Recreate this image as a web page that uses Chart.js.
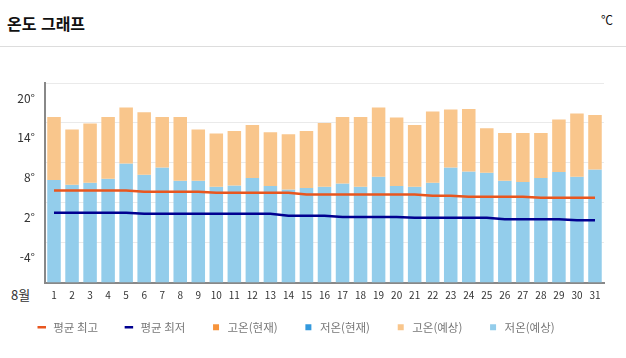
<!DOCTYPE html>
<html lang="ko">
<head>
<meta charset="utf-8">
<script src="https://cdn.jsdelivr.net/npm/chart.js@4/dist/chart.umd.min.js"></script>
<style>
  html, body { margin: 0; padding: 0; background: #fff; }
  #wrap { position: relative; width: 626px; height: 358px; overflow: hidden; font-family: "Noto Sans CJK KR", "Noto Sans", sans-serif; }
  #title { position: absolute; left: 7px; top: 11px; font-size: 16px; font-weight: 700; color: #111; }
  #unit { position: absolute; left: 601px; top: 11px; font-size: 12px; color: #111; }
  #sep { position: absolute; left: 0; top: 46px; width: 626px; height: 1px; background: #ddd; }
  #month { position: absolute; left: 11px; top: 285px; font-size: 13px; color: #333; }
  canvas { position: absolute; left: 0; top: 0; }
</style>
</head>
<body>
<div id="wrap">
  <div id="title">온도 그래프</div>
  <div id="unit">℃</div>
  <div id="sep"></div>
  <div id="month">8월</div>
  <canvas id="chart" width="626" height="358"></canvas>
</div>
<script>
// 8월 일자
const days = ['1','2','3','4','5','6','7','8','9','10','11','12','13','14','15','16',
  '17','18','19','20','21','22','23','24','25','26','27','28','29','30','31'];

// 예상 고온 / 저온
const highs = [14.9, 13.0, 13.9, 14.9, 16.3, 15.6, 14.9, 14.9, 13.0, 12.4, 12.8, 13.7, 12.6, 12.3, 12.8, 14.0,
  14.9, 14.9, 16.3, 14.8, 13.7, 15.7, 16.0, 16.1, 13.2, 12.5, 12.5, 12.5, 14.5, 15.4, 15.2];
const lows = [5.4, 4.7, 5.0, 5.6, 7.9, 6.2, 7.3, 5.3, 5.3, 4.4, 4.6, 5.7, 4.5, 4.0, 4.2, 4.4,
  4.9, 4.4, 5.9, 4.5, 4.4, 5.0, 7.3, 6.7, 6.5, 5.3, 5.1, 5.7, 6.6, 5.9, 7.0];

// 현재 (값 없음)
const highsNow = [];
const lowsNow = [];

// 평균 최고 / 최저
const avgHigh = [3.85, 3.85, 3.85, 3.85, 3.85, 3.65, 3.65, 3.65, 3.65, 3.5, 3.5, 3.5, 3.5, 3.5, 3.25, 3.25,
  3.25, 3.25, 3.25, 3.25, 3.25, 3.05, 3.05, 2.9, 2.9, 2.9, 2.9, 2.75, 2.75, 2.75, 2.75];
const avgLow = [0.5, 0.5, 0.5, 0.5, 0.5, 0.35, 0.35, 0.35, 0.35, 0.35, 0.35, 0.35, 0.35, 0.05, 0.05, 0.05,
  -0.15, -0.15, -0.15, -0.15, -0.25, -0.25, -0.25, -0.25, -0.25, -0.5, -0.5, -0.5, -0.5, -0.65, -0.65];

const yMin = -10;
const yMax = 20;
const yStep = 6;

// 범례를 x축 라벨 쪽으로 끌어올림
const LEGEND_SHIFT = -12;

const legendShift = {
  id: 'legendShift',
  afterLayout(chart) {
    chart.legend.top += LEGEND_SHIFT;
  }
};

const ctx = document.getElementById('chart');
new Chart(ctx, {
  type: 'bar',
  data: {
    labels: days,
    datasets: [
      {
        type: 'line',
        label: '평균 최고',
        data: avgHigh,
        borderColor: '#e8561f',
        backgroundColor: '#e8561f',
        borderWidth: 2.5,
        pointRadius: 0,
        tension: 0
      },
      {
        type: 'line',
        label: '평균 최저',
        data: avgLow,
        borderColor: '#000090',
        backgroundColor: '#000090',
        borderWidth: 2.5,
        pointRadius: 0,
        tension: 0
      },
      {
        label: '고온(현재)',
        data: highsNow,
        backgroundColor: '#f7943c',
        grouped: false
      },
      {
        label: '저온(현재)',
        data: lowsNow,
        backgroundColor: '#3399dd',
        grouped: false
      },
      {
        label: '고온(예상)',
        data: highs.map((h, i) => [lows[i], h]),
        backgroundColor: '#f9c68c',
        grouped: false
      },
      {
        label: '저온(예상)',
        data: lows.map(l => [yMin, l]),
        backgroundColor: '#93cdeb',
        grouped: false
      }
    ]
  },
  options: {
    responsive: false,
    animation: false,
    barPercentage: 0.75,
    categoryPercentage: 1,
    layout: {
      padding: { top: 83, left: 11, right: 22, bottom: 3 }
    },
    plugins: {
      tooltip: { enabled: false },
      legend: {
        position: 'bottom',
        align: 'start',
        labels: {
          usePointStyle: true,
          boxHeight: 6,
          boxWidth: 12,
          padding: 25,
          color: '#777',
          font: { family: '"Noto Sans CJK KR", sans-serif', size: 11.5 },
          generateLabels(chart) {
            const items = Chart.defaults.plugins.legend.labels.generateLabels(chart);
            return items.map(item => {
              const ds = chart.data.datasets[item.datasetIndex];
              if (ds.type === 'line') {
                item.pointStyle = 'line';
                item.strokeStyle = ds.borderColor;
                item.lineWidth = 2.5;
              } else {
                item.pointStyle = 'rect';
                item.fillStyle = ds.backgroundColor;
                item.strokeStyle = ds.backgroundColor;
                item.lineWidth = 0;
              }
              return item;
            });
          }
        }
      }
    },
    scales: {
      x: {
        grid: { display: false, drawTicks: false },
        border: { color: '#888', width: 2 },
        ticks: {
          autoSkip: false,
          maxRotation: 0,
          padding: 7,
          color: '#333',
          font: { family: '"Noto Sans CJK KR", sans-serif', size: 10 }
        }
      },
      y: {
        min: yMin,
        max: yMax,
        grid: { color: '#eaeaea', drawTicks: false },
        border: { color: '#888', width: 2 },
        ticks: {
          stepSize: yStep,
          labelOffset: 15,
          padding: 10,
          color: '#333',
          font: { family: '"Noto Sans CJK KR", sans-serif', size: 12 },
          callback: v => v === yMin ? '' : v + '°'
        },
        afterFit(scale) { scale.width = 34; }
      }
    }
  },
  plugins: [legendShift]
});
</script>
</body>
</html>
